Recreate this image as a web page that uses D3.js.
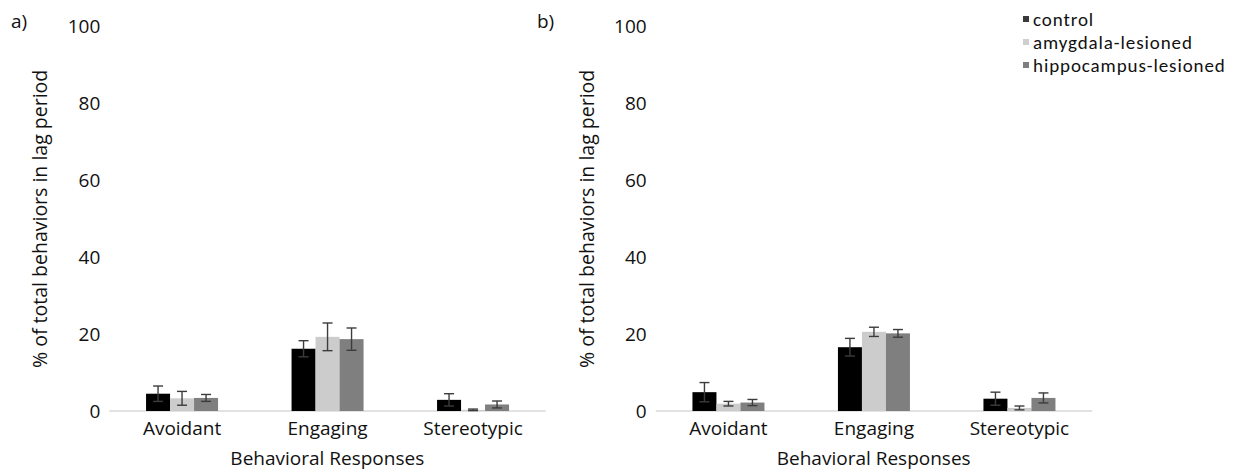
<!DOCTYPE html>
<html>
<head>
<meta charset="utf-8">
<script src="https://cdn.jsdelivr.net/npm/d3@7"></script>
<style>
    body { margin: 0; background: #fff; }
    svg { display: block; }
    text { font-family: "Open Sans", "Noto Sans", sans-serif; fill: #111; }
</style>
</head>
<body>
<svg id="chart"></svg>
<script>
// data
var categories = ["Avoidant", "Engaging", "Stereotypic"];
var groups = ["control", "amygdala-lesioned", "hippocampus-lesioned"];
var yTicks = [0, 20, 40, 60, 80, 100];

// panel a) means and error (+/-) per group, in category order
var aControl = [4.5, 16.2, 2.9];
var aAmygdala = [3.3, 19.3, 0.3];
var aHippocampus = [3.4, 18.7, 1.7];
var aControlErr = [2.0, 2.1, 1.6];
var aAmygdalaErr = [1.8, 3.6, 0.2];
var aHippocampusErr = [0.9, 2.9, 0.9];

// panel b)
var bControl = [4.9, 16.6, 3.2];
var bAmygdala = [1.9, 20.6, 0.8];
var bHippocampus = [2.2, 20.2, 3.4];
var bControlErr = [2.5, 2.3, 1.7];
var bAmygdalaErr = [0.6, 1.2, 0.5];
var bHippocampusErr = [0.8, 1.0, 1.3];

var barColors = ["#000000", "#cccccc", "#7f7f7f"];
var legendColors = ["#3a3a3a", "#cfcfcf", "#7f7f7f"];

var W = 1234, H = 475;
var svg = d3.select("#chart").attr("width", W).attr("height", H);

// shared y scale (both panels sit on the same baseline)
var y = d3.scaleLinear().domain([0, 100]).range([411, 26.7]);

function drawPanel(left, label, labelX, titleX, means, errs) {
    var g = svg.append("g");

    // x bands, 3 bars of 24px in each band
    var x = d3.scaleBand().domain(categories).range([left, left + 436.5]);
    var x1 = d3.scaleBand().domain(groups).range([0, 72]);

    // baseline
    g.append("line")
        .attr("x1", left).attr("x2", left + 436.5)
        .attr("y1", y(0)).attr("y2", y(0))
        .style("stroke", "#d9d9d9").style("stroke-width", 1.5);

    // y tick labels (no axis line, no grid)
    g.selectAll(".ytick")
        .data(yTicks)
        .enter()
        .append("text")
        .attr("x", left - 9)
        .attr("y", function(d) { return y(d); })
        .attr("dy", "0.35em")
        .attr("text-anchor", "end")
        .style("font-size", "19px")
        .text(function(d) { return d; });

    // flatten into rows
    var rows = [];
    categories.forEach(function(c, i) {
        groups.forEach(function(s, j) {
            rows.push({ cat: c, grp: s, j: j, v: means[j][i], e: errs[j][i] });
        });
    });

    var offset = (x.bandwidth() - 72) / 2;

    g.selectAll(".bar")
        .data(rows)
        .enter()
        .append("rect")
        .attr("x", function(d) { return x(d.cat) + offset + x1(d.grp); })
        .attr("width", x1.bandwidth())
        .attr("y", function(d) { return y(d.v); })
        .attr("height", function(d) { return y(0) - y(d.v); })
        .style("fill", function(d) { return barColors[d.j]; });

    // error bars
    var eb = g.selectAll(".err")
        .data(rows)
        .enter()
        .append("g")
        .attr("transform", function(d) {
            return "translate(" + (x(d.cat) + offset + x1(d.grp) + x1.bandwidth() / 2) + ",0)";
        })
        .style("stroke", "#3c3c3c")
        .style("stroke-width", 1.4);
    eb.append("line")
        .attr("y1", function(d) { return y(d.v + d.e); })
        .attr("y2", function(d) { return y(Math.max(0, d.v - d.e)); });
    eb.append("line")
        .attr("x1", -5).attr("x2", 5)
        .attr("y1", function(d) { return y(d.v + d.e); })
        .attr("y2", function(d) { return y(d.v + d.e); });
    eb.append("line")
        .attr("x1", -5).attr("x2", 5)
        .attr("y1", function(d) { return y(Math.max(0, d.v - d.e)); })
        .attr("y2", function(d) { return y(Math.max(0, d.v - d.e)); });

    // category labels
    g.selectAll(".xtick")
        .data(categories)
        .enter()
        .append("text")
        .attr("x", function(d) { return x(d) + x.bandwidth() / 2; })
        .attr("y", 435)
        .attr("text-anchor", "middle")
        .style("font-size", "19px")
        .text(function(d) { return d; });

    // axis titles
    g.append("text")
        .attr("x", left + 218)
        .attr("y", 465)
        .attr("text-anchor", "middle")
        .style("font-size", "19px")
        .text("Behavioral Responses");

    // y title centred on the plot area
    g.append("text")
        .attr("transform", "translate(" + titleX + "," + ((y(0) + y(100)) / 2) + ") rotate(-90)")
        .attr("text-anchor", "middle")
        .attr("dy", "0.35em")
        .style("font-size", "19.5px")
        .text("% of total behaviors in lag period");

    // panel letter
    g.append("text")
        .attr("x", labelX)
        .attr("y", 28)
        .style("font-size", "19px")
        .text(label);
}

drawPanel(109.3, "a)", 11, 40,
    [aControl, aAmygdala, aHippocampus],
    [aControlErr, aAmygdalaErr, aHippocampusErr]);
drawPanel(655.7, "b)", 537, 587,
    [bControl, bAmygdala, bHippocampus],
    [bControlErr, bAmygdalaErr, bHippocampusErr]);

// legend, top right
var legend = svg.append("g").attr("transform", "translate(1023,19)");
var item = legend.selectAll(".item")
    .data(groups)
    .enter()
    .append("g")
    .attr("transform", function(d, i) { return "translate(0," + (i * 23) + ")"; });
item.append("rect")
    .attr("x", 0).attr("y", -3)
    .attr("width", 6).attr("height", 6)
    .style("fill", function(d, i) { return legendColors[i]; });
item.append("text")
    .attr("x", 10)
    .attr("dy", "0.35em")
    .style("font-size", "19px")
    .style("letter-spacing", "0.9px")
    .style("font-family", "Carlito, Lato, 'Open Sans', sans-serif")
    .text(function(d) { return d; });
</script>
</body>
</html>
